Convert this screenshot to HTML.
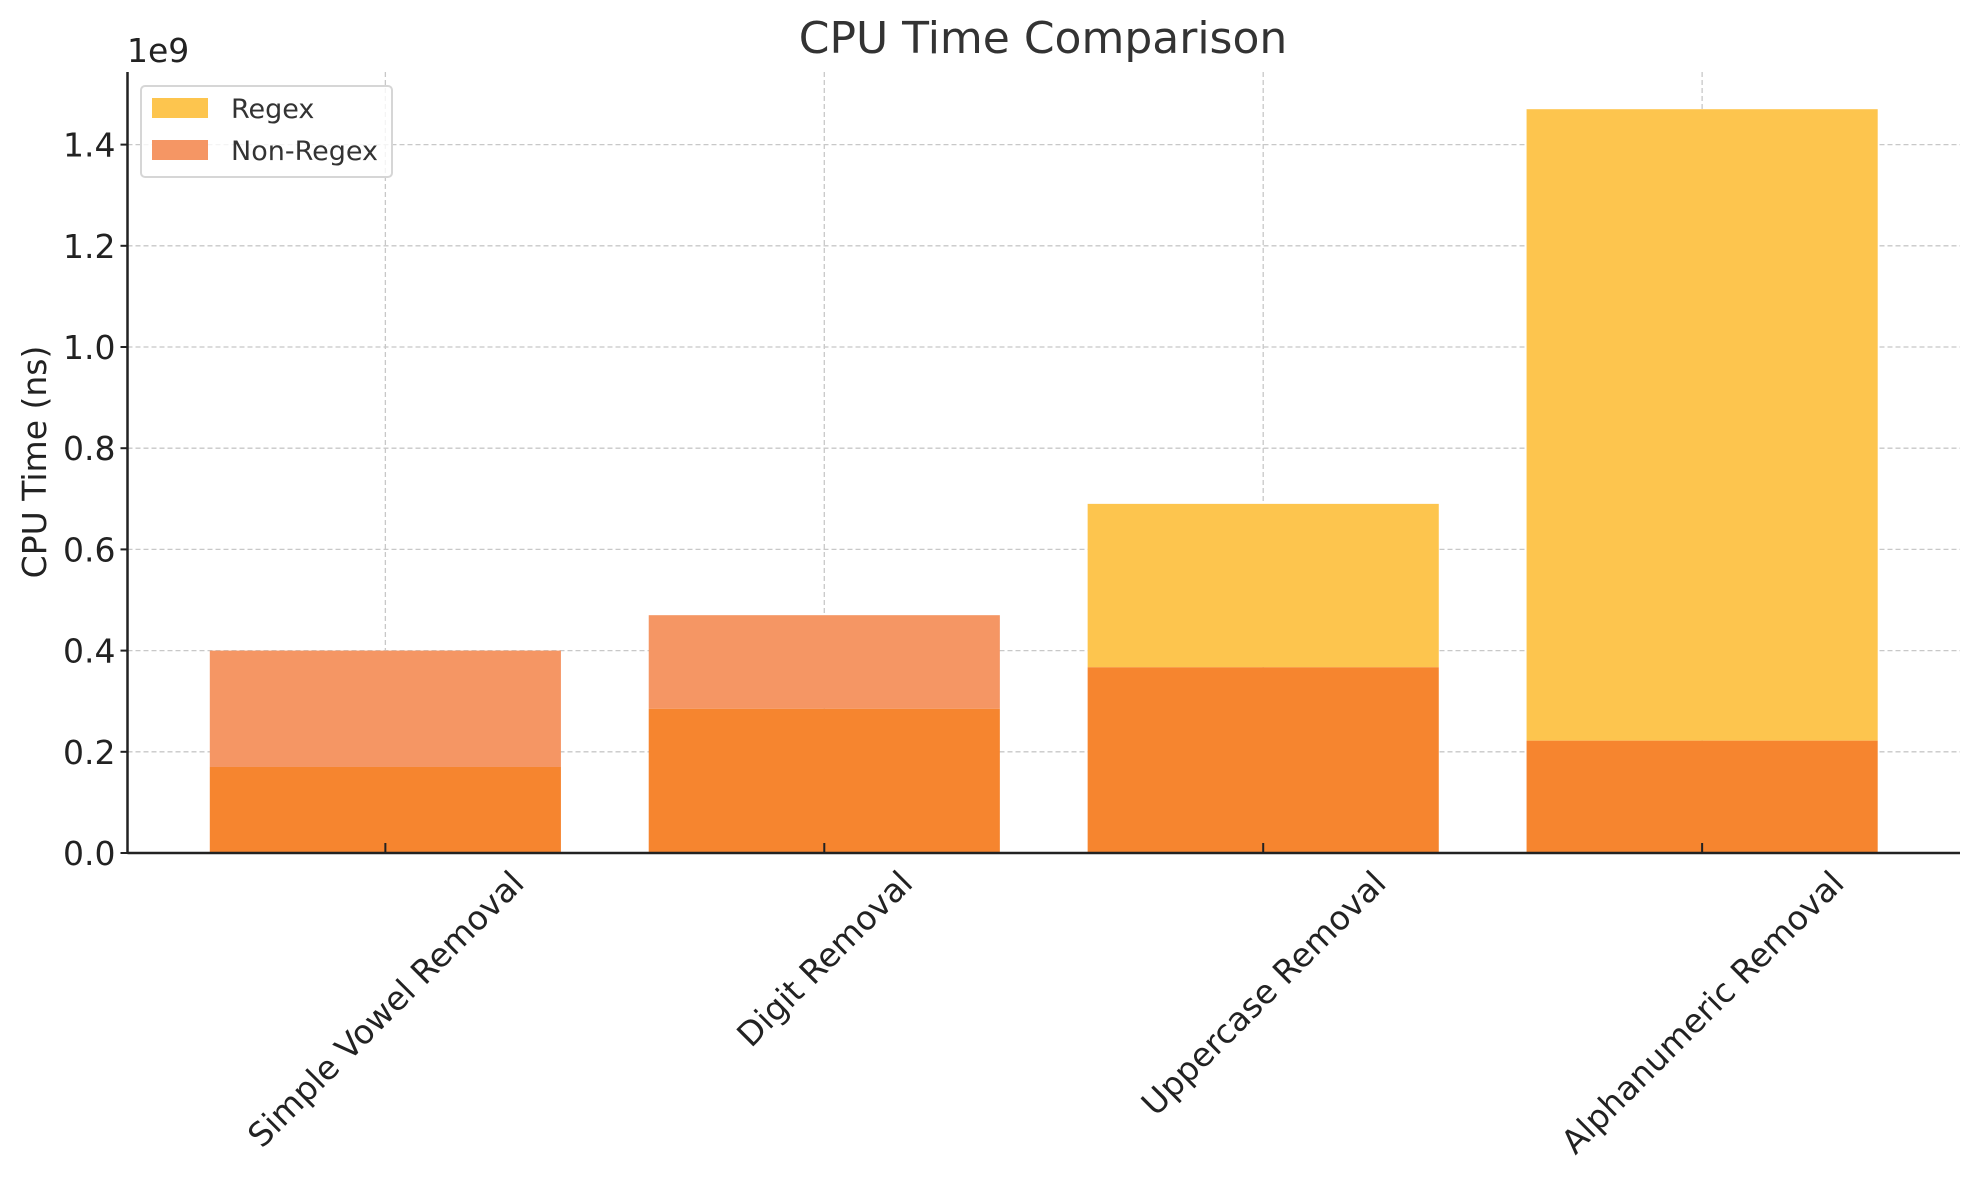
<!DOCTYPE html>
<html><head><meta charset="utf-8"><style>
html,body{margin:0;padding:0;background:#fff;}
svg{display:block;font-family:"DejaVu Sans","Liberation Sans",sans-serif;}
</style></head><body>
<svg id="chart" width="1979" height="1180" viewBox="0 0 1979 1180">
<text x="1043" y="53" font-size="44" fill="#333" text-anchor="middle">CPU Time Comparison</text>
<text x="127" y="62" font-size="33" fill="#222">1e9</text>
<text transform="translate(46,462) rotate(-90)" font-size="33" fill="#222" text-anchor="middle">CPU Time (ns)</text>
<g id="grid"></g><g id="bars"></g><g id="axes"></g><g id="xlabels"></g>
<g>
<rect x="141" y="86" width="251" height="91" rx="4" fill="#fff" fill-opacity="0.8" stroke="#d6d6d6" stroke-width="2"/>
<g>
<rect x="152" y="98" width="56" height="20" fill="#FDC54E"/>
<text x="231" y="118" font-size="27" fill="#333">Regex</text></g>
<g>
<rect x="152" y="140" width="56" height="20" fill="#F59664"/>
<text x="231" y="160" font-size="27" fill="#333">Non-Regex</text></g>
</g>
</svg>
<script>
const categories = ["Simple Vowel Removal","Digit Removal","Uppercase Removal","Alphanumeric Removal"];
const regexValues = [0.17, 0.285, 0.69, 1.47];
const nonRegexValues = [0.40, 0.47, 0.367, 0.222];
const yTicks = [0, 0.2, 0.4, 0.6, 0.8, 1.0, 1.2, 1.4];
const yTickLabels = ["0.0","0.2","0.4","0.6","0.8","1.0","1.2","1.4"];

const NS="http://www.w3.org/2000/svg";
const L=127.5,R=1960,T=72,B=853;
const yMax=Math.max(...regexValues,...nonRegexValues)*1.05;
const xMin=-0.5875,xMax=categories.length-1+0.5875;
const xs=v=>L+(v-xMin)/(xMax-xMin)*(R-L);
const ys=v=>B-v/yMax*(B-T);
const bw=0.8*(R-L)/(xMax-xMin);
function mk(tag,attrs,parent){const e=document.createElementNS(NS,tag);for(const k in attrs)e.setAttribute(k,attrs[k]);parent.appendChild(e);return e;}
const grid=document.getElementById('grid'),bars=document.getElementById('bars'),axes=document.getElementById('axes'),xl=document.getElementById('xlabels');
yTicks.forEach((t,i)=>{
  const y=ys(t);
  const g=mk('line',{x1:L,x2:R,y1:y,y2:y,stroke:'#c8c8c8','stroke-width':1.3,'stroke-dasharray':'5,3'},grid);
  
  
  const tk=mk('line',{x1:L-7,x2:L,y1:y,y2:y,stroke:'#222','stroke-width':2},axes);
  
  
  const tx=mk('text',{x:L-12,y:y+12,'font-size':33,fill:'#222','text-anchor':'end'},axes);
  tx.textContent=yTickLabels[i];
  
  
});
categories.forEach((c,i)=>{
  const x=xs(i);
  const g=mk('line',{x1:x,x2:x,y1:T,y2:B,stroke:'#c8c8c8','stroke-width':1.3,'stroke-dasharray':'5,3'},grid);
  
  
  const r=regexValues[i],n=nonRegexValues[i],lo=Math.min(r,n),hi=Math.max(r,n);
  const top=mk('rect',{x:x-bw/2,y:ys(hi),width:bw,height:ys(lo)-ys(hi),fill:r>n?'#FDC54E':'#F59664'},bars);
  
  
  const ov=mk('rect',{x:x-bw/2,y:ys(lo),width:bw,height:B-ys(lo),fill:'#F6852F'},bars);
  
  
  const tk=mk('line',{x1:x,x2:x,y1:B-10,y2:B,stroke:'#222','stroke-width':2},axes);
  
  
  const t=mk('text',{'font-size':33,fill:'#222','text-anchor':'middle'},xl);
  t.textContent=c;
  
  
  const len=t.getComputedTextLength();
  const h=(len+33)*0.7071;
  const cy=B+12+h/2;
  t.setAttribute('transform','translate('+x+','+cy+') rotate(-45)');
  t.setAttribute('y',12);
});
const ax1=mk('line',{x1:L,x2:L,y1:T,y2:B+1,stroke:'#222','stroke-width':2.5},axes);


const ax2=mk('line',{x1:L,x2:R,y1:B,y2:B,stroke:'#222','stroke-width':2.5},axes);


</script>
</body></html>
